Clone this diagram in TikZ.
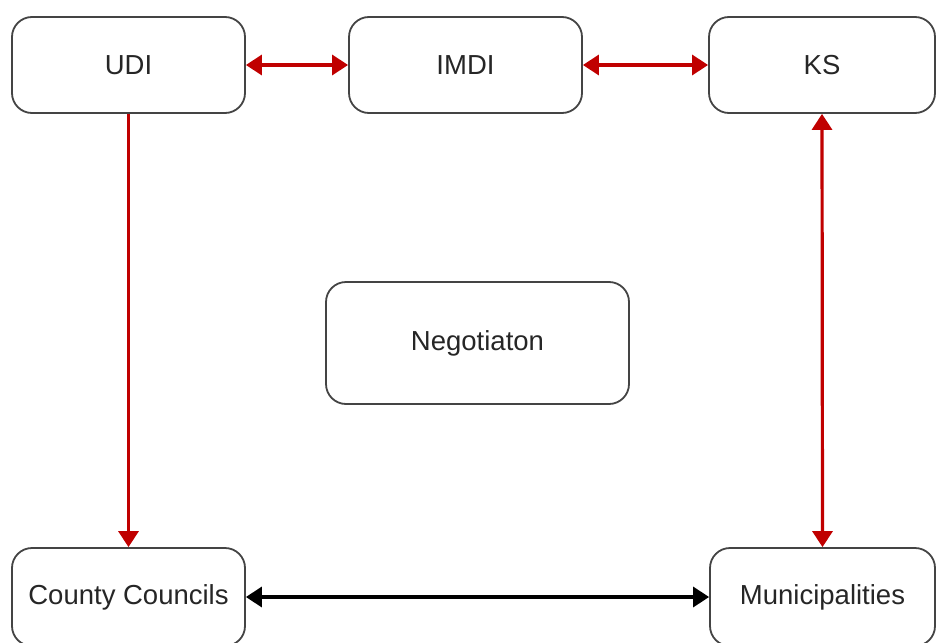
\documentclass[tikz,border=0pt]{standalone}
\usepackage{fontspec}
\setmainfont{Liberation Sans}
\usetikzlibrary{arrows.meta}
\definecolor{boxline}{HTML}{444444}
\definecolor{arrred}{HTML}{C00000}
\tikzset{
  box/.style={draw=boxline, line width=1.8pt, rounded corners=20pt, fill=white,
    inner sep=0pt, font=\fontsize{27.5}{32}\selectfont, text=black!85},
  tip/.style={Triangle[length=16pt,width=20pt]},
  redarr/.style={draw=arrred, line width=3.2pt, {Triangle[length=16pt,width=20pt]}-{Triangle[length=16pt,width=20pt]}},
  redone/.style={draw=arrred, line width=3.2pt, -{Triangle[length=16pt,width=20pt]}},
  blackarr/.style={draw=black, line width=3.2pt, {Triangle[length=16pt,width=20pt]}-{Triangle[length=16pt,width=20pt]}}
}
\begin{document}
\begin{tikzpicture}[x=1pt,y=-1pt]
\useasboundingbox[fill=white] (0,0) rectangle (936,642);
\node[box, minimum width=233pt, minimum height=96pt] (udi) at (128.5,65) {UDI};
\node[box, minimum width=233pt, minimum height=96pt] (imdi) at (465.5,65) {IMDI};
\node[box, minimum width=226pt, minimum height=96pt] (ks) at (822,65) {KS};
\node[box, minimum width=303pt, minimum height=122pt] (neg) at (477.5,343) {Negotiaton};
\node[box, minimum width=233pt, minimum height=98pt] (cc) at (128.5,597) {County Councils};
\node[box, minimum width=225pt, minimum height=98pt] (mun) at (822.5,597) {Municipalities};
\draw[redarr] (udi.east) -- (imdi.west);
\draw[redarr] (imdi.east) -- (ks.west);
\draw[redone] (udi.south) -- (cc.north);
\draw[redarr] (ks.south) -- (mun.north);
\draw[blackarr] (cc.east) -- (mun.west);
\end{tikzpicture}
\end{document}
